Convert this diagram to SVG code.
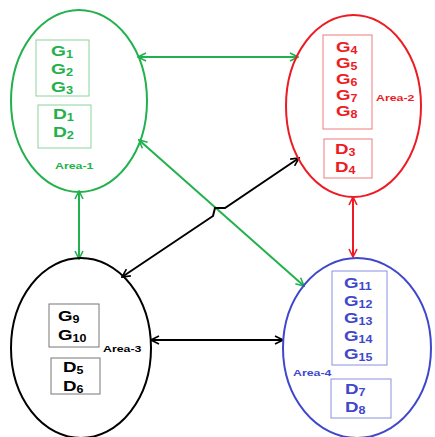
<svg xmlns="http://www.w3.org/2000/svg" width="435" height="437" viewBox="0 0 435 437">
<style>
text{font-family:"Liberation Sans",Arial,sans-serif;font-weight:bold}
.g{font-size:15px}
.s{font-size:10px}
.lab{font-size:9.5px}
.el{fill:none;stroke-width:2}
.bx{fill:none;stroke-width:1}
.cn{fill:none;stroke-width:2}
.green{fill:#22b14c}.red{fill:#ed1c24}.blue{fill:#3f48cc}.black{fill:#000}
</style>
<defs>
<marker id="ag" viewBox="0 0 10 10" refX="9" refY="5" markerWidth="5" markerHeight="5" orient="auto-start-reverse" markerUnits="strokeWidth"><path d="M1,1 L9,5 L1,9" fill="none" stroke="#22b14c" stroke-width="1.6"/></marker>
<marker id="ar" viewBox="0 0 10 10" refX="9" refY="5" markerWidth="5" markerHeight="5" orient="auto-start-reverse" markerUnits="strokeWidth"><path d="M1,1 L9,5 L1,9" fill="none" stroke="#ed1c24" stroke-width="1.6"/></marker>
<marker id="ak" viewBox="0 0 10 10" refX="9" refY="5" markerWidth="5" markerHeight="5" orient="auto-start-reverse" markerUnits="strokeWidth"><path d="M1,1 L9,5 L1,9" fill="none" stroke="#000" stroke-width="1.6"/></marker>
</defs>
<g id="connectors">
<path class="cn" stroke="#22b14c" d="M138,57 L298,57" marker-start="url(#ag)" marker-end="url(#ag)"/>
<path class="cn" stroke="#22b14c" d="M139,140 L304,286" marker-start="url(#ag)" marker-end="url(#ag)"/>
<path class="cn" stroke="#22b14c" d="M79,191 L79,259" marker-start="url(#ag)" marker-end="url(#ag)"/>
<path class="cn" stroke="#ed1c24" d="M353,197 L353,257" marker-start="url(#ar)" marker-end="url(#ar)"/>
<path class="cn" stroke="#000" d="M151,340 L283,340" marker-start="url(#ak)" marker-end="url(#ak)"/>
<path class="cn" stroke="#000" d="M122,277 L213,216 L215,208 L225,208 L299,158" marker-start="url(#ak)" marker-end="url(#ak)"/>
</g>
<g id="area1">
<ellipse class="el" stroke="#22b14c" cx="79" cy="101" rx="68" ry="91"/>
<rect class="bx" stroke="#8ad49c" x="36" y="40" width="53" height="56"/>
<rect class="bx" stroke="#8ad49c" x="38" y="105" width="53" height="43"/>
<g transform="matrix(1.28,0,0,1,-14.28,0)">
<text class="g green" x="51" y="56">G<tspan class="s" dy="2">1</tspan></text>
<text class="g green" x="51" y="74">G<tspan class="s" dy="2">2</tspan></text>
<text class="g green" x="51" y="92">G<tspan class="s" dy="2">3</tspan></text>
</g>
<g transform="matrix(1.28,0,0,1,-14.84,0)">
<text class="g green" x="53" y="119">D<tspan class="s" dy="2">1</tspan></text>
<text class="g green" x="53" y="137">D<tspan class="s" dy="2">2</tspan></text>
</g>
<text class="lab green" transform="matrix(1.3,0,0,1,-16.5,0)" x="55" y="169">Area-1</text>
</g>
<g id="area2">
<ellipse class="el" stroke="#ed1c24" cx="353.5" cy="106" rx="67.5" ry="91"/>
<rect class="bx" stroke="#f07a7e" x="323" y="35" width="49" height="94"/>
<rect class="bx" stroke="#f07a7e" x="324" y="139" width="48" height="39"/>
<g transform="matrix(1.25,0,0,1,-84,0)">
<text class="g red" x="336" y="52">G<tspan class="s" dy="2">4</tspan></text>
<text class="g red" x="336" y="68">G<tspan class="s" dy="2">5</tspan></text>
<text class="g red" x="336" y="84">G<tspan class="s" dy="2">6</tspan></text>
<text class="g red" x="336" y="100">G<tspan class="s" dy="2">7</tspan></text>
<text class="g red" x="336" y="116">G<tspan class="s" dy="2">8</tspan></text>
</g>
<g transform="matrix(1.25,0,0,1,-83.75,0)">
<text class="g red" x="335" y="154">D<tspan class="s" dy="2">3</tspan></text>
<text class="g red" x="335" y="172">D<tspan class="s" dy="2">4</tspan></text>
</g>
<text class="lab red" transform="matrix(1.3,0,0,1,-112.8,0)" x="376" y="101">Area-2</text>
</g>
<g id="area3">
<ellipse class="el" stroke="#000" cx="81" cy="348" rx="70" ry="90"/>
<rect class="bx" stroke="#777" x="49" y="304" width="50" height="43"/>
<rect class="bx" stroke="#777" x="51" y="358" width="49" height="36"/>
<g transform="matrix(1.25,0,0,1,-14.5,0)">
<text class="g black" x="58" y="321">G<tspan class="s" dy="2">9</tspan></text>
<text class="g black" x="58" y="340">G<tspan class="s" dy="2">10</tspan></text>
</g>
<g transform="matrix(1.25,0,0,1,-15.75,0)">
<text class="g black" x="63" y="372">D<tspan class="s" dy="2">5</tspan></text>
<text class="g black" x="63" y="391">D<tspan class="s" dy="2">6</tspan></text>
</g>
<text class="lab black" transform="matrix(1.3,0,0,1,-30.9,0)" x="103" y="352">Area-3</text>
</g>
<g id="area4">
<ellipse class="el" stroke="#3f48cc" cx="357" cy="348" rx="74" ry="90"/>
<rect class="bx" stroke="#8a90e0" x="332" y="271" width="55" height="94"/>
<rect class="bx" stroke="#8a90e0" x="331" y="379" width="60" height="39"/>
<g transform="matrix(1.25,0,0,1,-86,0)">
<text class="g blue" x="344" y="288">G<tspan class="s" dy="2">11</tspan></text>
<text class="g blue" x="344" y="306">G<tspan class="s" dy="2">12</tspan></text>
<text class="g blue" x="344" y="323">G<tspan class="s" dy="2">13</tspan></text>
<text class="g blue" x="344" y="341">G<tspan class="s" dy="2">14</tspan></text>
<text class="g blue" x="344" y="359">G<tspan class="s" dy="2">15</tspan></text>
</g>
<g transform="matrix(1.25,0,0,1,-86.25,0)">
<text class="g blue" x="345" y="394">D<tspan class="s" dy="2">7</tspan></text>
<text class="g blue" x="345" y="412">D<tspan class="s" dy="2">8</tspan></text>
</g>
<text class="lab blue" transform="matrix(1.3,0,0,1,-87.9,0)" x="293" y="376">Area-4</text>
</g>
</svg>
